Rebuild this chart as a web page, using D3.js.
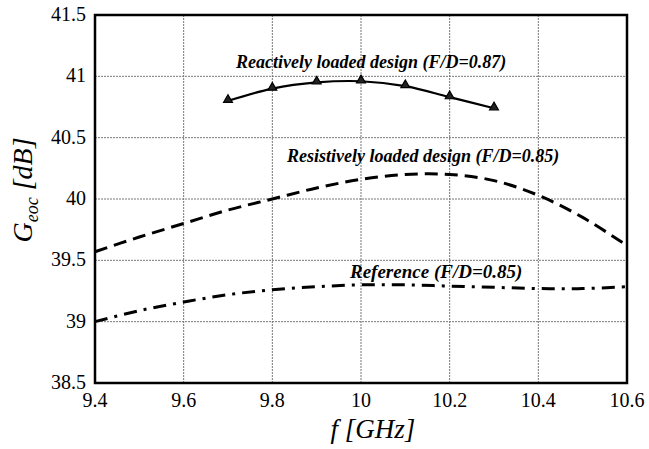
<!DOCTYPE html>
<html>
<head>
<meta charset="utf-8">
<script src="https://cdn.jsdelivr.net/npm/d3@7"></script>
<style>
  body { margin: 0; background: #fff; }
  svg { display: block; }
  svg text { font-family: "Liberation Serif", "DejaVu Serif", "Noto Serif", serif; }
</style>
</head>
<body>
<script>
// frequency axis (GHz)
var freqs = [9.4, 9.5, 9.6, 9.7, 9.8, 9.9, 10.0, 10.1, 10.2, 10.3, 10.4, 10.5, 10.6];
// resistively loaded design, F/D=0.85
var resistive = [39.57, 39.69, 39.80, 39.91, 40.00, 40.09, 40.16, 40.20, 40.20, 40.15, 40.03, 39.85, 39.62];
// reference, F/D=0.85
var reference = [39.00, 39.09, 39.16, 39.22, 39.26, 39.285, 39.30, 39.30, 39.29, 39.28, 39.27, 39.27, 39.285];
// reactively loaded design, F/D=0.87 (markers)
var reactFreqs = [9.7, 9.8, 9.9, 10.0, 10.1, 10.2, 10.3];
var reactive = [40.80, 40.90, 40.95, 40.96, 40.92, 40.83, 40.74];

var xTicks = [9.4, 9.6, 9.8, 10, 10.2, 10.4, 10.6];
var yTicks = [38.5, 39, 39.5, 40, 40.5, 41, 41.5];

var width = 649, height = 449;
var margin = {left: 95, right: 22, top: 15, bottom: 66};

var svg = d3.select("body").append("svg")
    .attr("width", width)
    .attr("height", height);

var x = d3.scaleLinear().domain([9.4, 10.6]).range([margin.left, width - margin.right]);
var y = d3.scaleLinear().domain([38.5, 41.5]).range([height - margin.bottom, margin.top]);

// grid
svg.append("g").selectAll("line")
    .data(xTicks.slice(1, -1))
    .enter().append("line")
      .attr("x1", d => x(d)).attr("x2", d => x(d))
      .attr("y1", y(38.5)).attr("y2", y(41.5))
      .attr("stroke", "#777").attr("stroke-width", 1)
      .attr("stroke-dasharray", "2,1");

svg.append("g").selectAll("line")
    .data(yTicks.slice(1, -1))
    .enter().append("line")
      .attr("x1", x(9.4)).attr("x2", x(10.6))
      .attr("y1", d => y(d)).attr("y2", d => y(d))
      .attr("stroke", "#777").attr("stroke-width", 1)
      .attr("stroke-dasharray", "2,1");

// tick labels
svg.append("g").selectAll("text")
    .data(xTicks)
    .enter().append("text")
      .attr("x", d => x(d))
      .attr("y", y(38.5) + 24)
      .attr("text-anchor", "middle")
      .attr("font-size", 20)
      .text(d => d3.format("~g")(d));

svg.append("g").selectAll("text")
    .data(yTicks)
    .enter().append("text")
      .attr("x", x(9.4) - 9)
      .attr("y", d => y(d) + 6)
      .attr("text-anchor", "end")
      .attr("font-size", 20)
      .text(d => d3.format("~g")(d));

// curves
var line = d3.line()
    .x(d => x(d[0]))
    .y(d => y(d[1]))
    .curve(d3.curveCatmullRom);

svg.append("path")
    .datum(d3.zip(freqs, resistive))
    .attr("d", line)
    .attr("fill", "none")
    .attr("stroke", "#000")
    .attr("stroke-width", 3)
    .attr("stroke-dasharray", "13,7");

svg.append("path")
    .datum(d3.zip(freqs, reference))
    .attr("d", line)
    .attr("fill", "none")
    .attr("stroke", "#000")
    .attr("stroke-width", 3)
    .attr("stroke-dasharray", "13,7,3,7");

var reactData = d3.zip(reactFreqs, reactive);
svg.append("path")
    .datum(reactData)
    .attr("d", line)
    .attr("fill", "none")
    .attr("stroke", "#000")
    .attr("stroke-width", 2.2);

var tri = d3.symbol().type(d3.symbolTriangle).size(34);
svg.append("g").selectAll("path")
    .data(reactData)
    .enter().append("path")
      .attr("d", tri)
      .attr("transform", d => "translate(" + x(d[0]) + "," + (y(d[1]) - 1) + ")")
      .attr("fill", "#222")
      .attr("stroke", "#000")
      .attr("stroke-width", 1.2);

// frame
svg.append("rect")
    .attr("x", x(9.4)).attr("y", y(41.5))
    .attr("width", x(10.6) - x(9.4))
    .attr("height", y(38.5) - y(41.5))
    .attr("fill", "none")
    .attr("stroke", "#000")
    .attr("stroke-width", 2.5);

// series labels
var labels = [
  {t: "Reactively loaded design (F/D=0.87)", x: 236, y: 68, s: 18},
  {t: "Resistively loaded design (F/D=0.85)", x: 287, y: 162, s: 18},
  {t: "Reference (F/D=0.85)", x: 350, y: 278, s: 19}
];
svg.append("g").selectAll("text")
    .data(labels)
    .enter().append("text")
      .attr("x", d => d.x)
      .attr("y", d => d.y)
      .attr("font-size", d => d.s)
      .attr("font-weight", "bold")
      .attr("font-style", "italic")
      .text(d => d.t);

// axis titles
svg.append("text")
    .attr("x", 373)
    .attr("y", 438)
    .attr("text-anchor", "middle")
    .attr("font-size", 27)
    .attr("font-style", "italic")
    .text("f [GHz]");

var yt = svg.append("text")
    .attr("transform", "translate(32,190) rotate(-90)")
    .attr("text-anchor", "middle")
    .attr("font-size", 28)
    .attr("font-style", "italic");
yt.append("tspan").text("G");
yt.append("tspan").attr("font-size", 18).attr("dy", 6).text("eoc");
yt.append("tspan").attr("dy", -6).text(" [dB]");
</script>
</body>
</html>
